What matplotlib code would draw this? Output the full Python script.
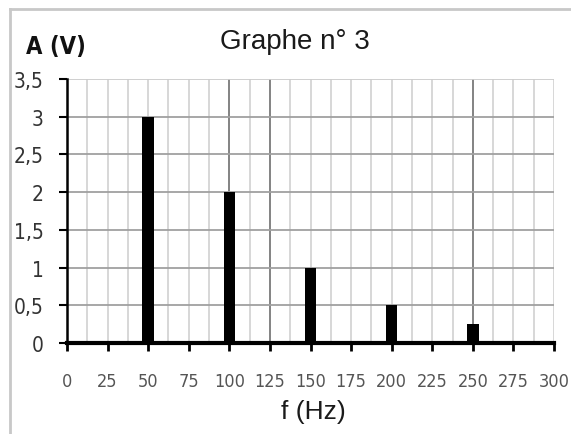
import numpy as np
import matplotlib.pyplot as plt
from matplotlib.lines import Line2D
from matplotlib import font_manager

freqs = [50, 100, 150, 200, 250]
amps = [3, 2, 1, 0.5, 0.25]
xticks = [0, 25, 50, 75, 100, 125, 150, 175, 200, 225, 250, 275, 300]
yticks = [0, 0.5, 1, 1.5, 2, 2.5, 3, 3.5]
ylabels = ['0', '0,5', '1', '1,5', '2', '2,5', '3', '3,5']
dark_vlines = [100, 125, 250]

narrow = font_manager.FontProperties(family='DejaVu Sans', stretch='condensed')

fig = plt.figure(figsize=(5.71, 4.35), dpi=100)
ax = fig.add_axes([67/571, 1 - 344/435, 487/571, 264/435])

# cadre gris
fig.add_artist(Line2D([10/571, 10/571], [0, 1 - 10/435], color='#c8c8c8', lw=2))
fig.add_artist(Line2D([10/571, 1], [1 - 10/435, 1 - 10/435], color='#c8c8c8', lw=2))

# grille
for x in np.arange(12.5, 300.1, 12.5):
    c = '#7a7a7a' if x in dark_vlines else '#d4d4d4'
    ax.axvline(x, color=c, lw=1.3, zorder=0)
for y in yticks[1:]:
    ax.axhline(y, color='#a0a0a0' if y < 3.5 else '#cccccc', lw=1.3, zorder=0)

ax.bar(freqs, amps, width=7, color='black', zorder=3)

ax.set_xlim(0, 300)
ax.set_ylim(0, 3.5)
ax.set_xticks(xticks)
ax.set_xticklabels([str(v) for v in xticks], fontproperties=narrow, fontsize=13, color='#555555')
ax.set_yticks(yticks)
ax.set_yticklabels(ylabels, fontproperties=narrow, fontsize=15, color='#333333')
ax.tick_params(axis='x', direction='out', length=6, width=2, pad=15, color='black')
ax.tick_params(axis='y', direction='out', length=6, width=1.5, pad=11, color='black')

for s in ['top', 'right']:
    ax.spines[s].set_visible(False)
ax.spines['left'].set_linewidth(1.8)
ax.spines['bottom'].set_linewidth(3)
ax.spines['bottom'].set_zorder(4)

fig.text(295/571, 1 - 42/435, 'Graphe n° 3', ha='center', va='center',
         fontfamily='Liberation Sans', fontsize=20, color='#1a1a1a')
fig.text(26/571, 1 - 47/435, 'A (V)', ha='left', va='center',
         fontproperties=font_manager.FontProperties(family='DejaVu Sans', stretch='condensed',
                                                    weight='bold', size=17), color='#111111')
fig.text(313/571, 1 - 412/435, 'f (Hz)', ha='center', va='center',
         fontfamily='Liberation Sans', fontsize=19, color='#1a1a1a')

fig.savefig('out.png', dpi=100)
